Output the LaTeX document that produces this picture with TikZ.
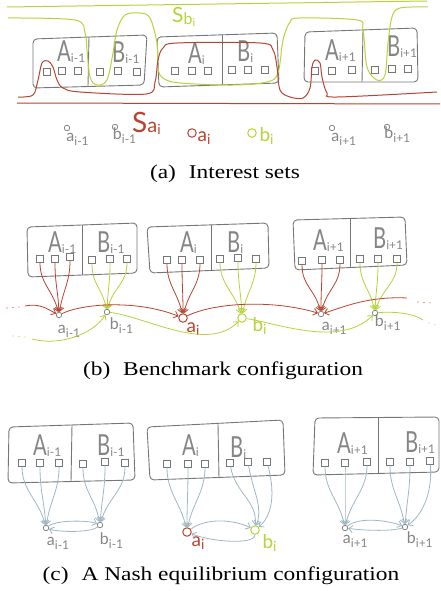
\documentclass[tikz,border=0pt]{standalone}
\usepackage{fontspec}
\setmainfont{Liberation Serif}
\newfontfamily\handfont{Lato}
\usepackage{graphicx}
\usetikzlibrary{arrows.meta,positioning}
\definecolor{boxgray}{HTML}{767676}
\definecolor{inkgray}{HTML}{858585}
\definecolor{sred}{HTML}{B8432F}
\definecolor{sgreen}{HTML}{B5D33A}
\definecolor{sblue}{HTML}{9FB7C3}
\newcommand{\hw}[5][-3pt]{{\fontsize{#4}{#4}\selectfont #2}\raisebox{#1}{\fontsize{#5}{#5}\selectfont #3}}
\newcommand{\hwbox}[2]{\scalebox{0.7}[1]{\fontsize{29}{29}\selectfont #1}\raisebox{-1pt}{\fontsize{12}{12}\selectfont #2}}
\newcommand{\capt}[2]{\scalebox{1.2}[1]{\fontsize{19.5}{19.5}\selectfont (#1)\hspace{0.55em}#2}}
\tikzset{
  box/.style={draw=boxgray, line width=.9pt, rounded corners=4pt},
  sq/.style={draw=boxgray, line width=.9pt, minimum width=7pt, minimum height=6.5pt, inner sep=0pt},
  pt/.style={draw=inkgray, circle, line width=.8pt, minimum size=5.5pt, inner sep=0pt},
  bigpt/.style={circle, line width=1pt, minimum size=8.5pt, inner sep=0pt},
  hand/.style={font=\handfont, text=inkgray, inner sep=0pt},
  handtip/.style={-{Straight Barb[length=4pt,width=7pt]}},
  redarr/.style={handtip, draw=sred, line width=.8pt},
  grnarr/.style={handtip, draw=sgreen, line width=.8pt},
  bluarr/.style={handtip, draw=sblue, line width=.8pt},
  curve/.style={line width=1pt},
  dots/.style={line width=1.2pt, line cap=round, dash pattern=on 0pt off 6pt},
  captext/.style={inner sep=0pt, anchor=base}
}
\begin{document}
\begin{tikzpicture}[x=1pt, y=-1pt]
  \useasboundingbox (0,0) rectangle (441,591);

  % (a) interest sets
  \draw[box] (33,39) -- (147,35) -- (144,85) -- (33,88) -- cycle;
  \draw[box] (89,37) -- (88,86);
  \draw[box] (157,37) -- (277,33) -- (279,83) -- (159,87) -- cycle;
  \draw[box] (222,35) -- (222,85);
  \draw[box] (305,32) -- (417,28) -- (418,82) -- (304,82) -- cycle;
  \draw[box] (363,30) -- (362,82);
  \node[hand, anchor=base west] (a-tAp) at (57,62) {\hwbox{A}{i-1}};
  \node[hand, anchor=base west] (a-tBp) at (112,63) {\hwbox{B}{i-1}};
  \node[hand, anchor=base west] (a-tAc) at (188,64) {\hwbox{A}{i}};
  \node[hand, anchor=base west] (a-tBc) at (237,62) {\hwbox{B}{i}};
  \node[hand, anchor=base west] (a-tAn) at (325,61) {\hwbox{A}{i+1}};
  \node[hand, anchor=base west] (a-tBn) at (387,57) {\hwbox{B}{i+1}};
  \node[sq] (a-Ap1) at (47,72) {}; \node[sq] (a-Ap2) at (62,71) {}; \node[sq] (a-Ap3) at (78,71) {};
  \node[sq] (a-Bp1) at (100,72) {}; \node[sq] (a-Bp2) at (118,71) {}; \node[sq] (a-Bp3) at (137,72) {};
  \node[sq] (a-Ac1) at (175,71) {}; \node[sq] (a-Ac2) at (192,71) {}; \node[sq] (a-Ac3) at (208,71) {};
  \node[sq] (a-Bc1) at (232,70) {}; \node[sq] (a-Bc2) at (248,70) {}; \node[sq] (a-Bc3) at (265,70) {};
  \node[sq] (a-An1) at (315,71) {}; \node[sq] (a-An2) at (332,71) {}; \node[sq] (a-An3) at (352,70) {};
  \node[sq] (a-Bn1) at (375,70) {}; \node[sq] (a-Bn2) at (392,69) {}; \node[sq] (a-Bn3) at (408,69) {};

  \draw[sgreen, curve] (7,7) -- (427,1);
  \draw[sgreen, curve] plot[smooth, tension=.55] coordinates {(8,18) (75,20) (85,33) (87,50) (90,77)
    (97,85) (107,80) (113,53) (117,30) (125,15) (140,13) (150,18) (157,43) (158,68) (163,78) (180,83)
    (233,85) (267,82) (278,73) (283,40) (290,22) (300,18) (357,20) (363,30) (367,67) (377,80)
    (385,75) (388,43) (392,17) (400,8) (428,7)};
  \draw[sred, curve] plot[smooth, tension=.55] coordinates {(18,97) (33,95) (38,80) (42,63) (48,61)
    (53,67) (57,80) (63,88) (80,92) (146,94) (155,82) (158,60) (163,48) (177,43) (260,43) (273,50)
    (277,67) (280,90) (290,97) (303,98) (310,88) (312,67) (315,60) (320,63) (322,77) (327,93)
    (337,97) (437,92)};
  \draw[sred, curve] (17,103) -- (440,104);
  \node[hand, text=sgreen, anchor=base west] (a-sb) at (172,23)
    {\hw[-2pt]{S}{b\raisebox{-2pt}{\fontsize{11}{11}\selectfont i}}{21}{16}};
  \node[hand, text=sred, anchor=base west] (a-sa) at (132,132)
    {\hw[0pt]{S}{a\raisebox{-2pt}{\fontsize{14}{14}\selectfont i}}{28}{20}};

  \node[pt] (a-ap) at (67,128) {};
  \node[pt] (a-bp) at (115,127) {};
  \node[bigpt, draw=sred] (a-ac) at (192,133) {};
  \node[bigpt, draw=sgreen] (a-bc) at (252,133) {};
  \node[pt] (a-an) at (332,128) {};
  \node[pt] (a-bn) at (387,127) {};
  \node[hand, below right=2.5pt and -3pt of a-ap] (a-lap) {\hw[-4pt]{a}{i-1}{16}{12}};
  \node[hand, below right=-1.5pt and -4.5pt of a-bp] (a-lbp) {\hw[-4pt]{b}{i-1}{16}{12}};
  \node[hand, text=sred, below right=-5pt and 2pt of a-ac] (a-lac) {\hw[-3pt]{a}{i}{19}{14}};
  \node[hand, text=sgreen, below right=-9pt and 4pt of a-bc] (a-lbc) {\hw[-3pt]{b}{i}{19}{14}};
  \node[hand, below right=2.5pt and -3pt of a-an] (a-lan) {\hw[-4pt]{a}{i+1}{16}{12}};
  \node[hand, below right=-2.5pt and -5pt of a-bn] (a-lbn) {\hw[-4pt]{b}{i+1}{16}{12}};
  \node[captext] (a-cap) at (225,178) {\capt{a}{Interest sets}};

  % (b) benchmark configuration
  \draw[box] (27,227) -- (137,223) -- (137,273) -- (28,277) -- cycle;
  \draw[box] (82,225) -- (82,275);
  \draw[box] (147,227) -- (268,223) -- (269,268) -- (150,273) -- cycle;
  \draw[box] (211,225) -- (211,271);
  \draw[box] (293,220) -- (405,217) -- (407,265) -- (295,270) -- cycle;
  \draw[box] (350,218) -- (350,268);
  \node[hand, anchor=base west] (b-tAp) at (48,252) {\hwbox{A}{i-1}};
  \node[hand, anchor=base west] (b-tBp) at (97,252) {\hwbox{B}{i-1}};
  \node[hand, anchor=base west] (b-tAc) at (180,252) {\hwbox{A}{i}};
  \node[hand, anchor=base west] (b-tBc) at (227,252) {\hwbox{B}{i}};
  \node[hand, anchor=base west] (b-tAn) at (313,250) {\hwbox{A}{i+1}};
  \node[hand, anchor=base west] (b-tBn) at (373,248) {\hwbox{B}{i+1}};
  \node[sq] (b-Ap1) at (40,259) {}; \node[sq] (b-Ap2) at (55,259) {}; \node[sq] (b-Ap3) at (70,257) {};
  \node[sq] (b-Bp1) at (92,260) {}; \node[sq] (b-Bp2) at (110,259) {}; \node[sq] (b-Bp3) at (127,259) {};
  \node[sq] (b-Ac1) at (167,260) {}; \node[sq] (b-Ac2) at (182,260) {}; \node[sq] (b-Ac3) at (200,260) {};
  \node[sq] (b-Bc1) at (220,259) {}; \node[sq] (b-Bc2) at (238,258) {}; \node[sq] (b-Bc3) at (256,259) {};
  \node[sq] (b-An1) at (302,261) {}; \node[sq] (b-An2) at (322,260) {}; \node[sq] (b-An3) at (340,260) {};
  \node[sq] (b-Bn1) at (360,259) {}; \node[sq] (b-Bn2) at (378,259) {}; \node[sq] (b-Bn3) at (397,259) {};

  \node[pt] (b-ap) at (59,315) {};
  \node[pt] (b-bp) at (107,312) {};
  \node[bigpt, draw=sred] (b-ac) at (183,318) {};
  \node[bigpt, draw=sgreen] (b-bc) at (242,318) {};
  \node[pt] (b-an) at (321,314) {};
  \node[pt] (b-bn) at (375,313) {};
  \node[hand, below right=7.5pt and -3.5pt of b-ap] (b-lap) {\hw[-4pt]{a}{i-1}{16}{12}};
  \node[hand, below right=3.5pt and .5pt of b-bp] (b-lbp) {\hw[-4pt]{b}{i-1}{16}{12}};
  \node[hand, text=sred, below right=1pt and 0pt of b-ac] (b-lac) {\hw[-3pt]{a}{i}{19}{14}};
  \node[hand, text=sgreen, below right=-4pt and 7pt of b-bc] (b-lbc) {\hw[-3pt]{b}{i}{19}{14}};
  \node[hand, below right=5.5pt and -1.5pt of b-an] (b-lan) {\hw[-4pt]{a}{i+1}{16}{12}};
  \node[hand, below right=-.5pt and -2.5pt of b-bn] (b-lbn) {\hw[-4pt]{b}{i+1}{16}{12}};

  \draw[redarr] (b-Ap1) .. controls +(0,25) and +(-6,-25) .. (b-ap);
  \draw[redarr] (b-Ap2) .. controls +(0,25) and +(-1,-25) .. (b-ap);
  \draw[redarr] (b-Ap3) .. controls +(0,25) and +(4,-25) .. (b-ap);
  \draw[grnarr] (b-Bp1) .. controls +(0,25) and +(-5,-25) .. (b-bp);
  \draw[grnarr] (b-Bp2) .. controls +(0,25) and +(1,-25) .. (b-bp);
  \draw[grnarr] (b-Bp3) .. controls +(0,25) and +(6,-25) .. (b-bp);
  \draw[redarr] (b-Ac1) .. controls +(0,25) and +(-5,-25) .. (b-ac);
  \draw[redarr] (b-Ac2) .. controls +(0,25) and +(0,-25) .. (b-ac);
  \draw[redarr] (b-Ac3) .. controls +(0,25) and +(5,-25) .. (b-ac);
  \draw[grnarr] (b-Bc1) .. controls +(0,25) and +(-7,-25) .. (b-bc);
  \draw[grnarr] (b-Bc2) .. controls +(0,25) and +(-1,-25) .. (b-bc);
  \draw[grnarr] (b-Bc3) .. controls +(0,25) and +(4,-25) .. (b-bc);
  \draw[redarr] (b-An1) .. controls +(0,25) and +(-6,-25) .. (b-an);
  \draw[redarr] (b-An2) .. controls +(0,25) and +(0,-25) .. (b-an);
  \draw[redarr] (b-An3) .. controls +(0,25) and +(6,-25) .. (b-an);
  \draw[grnarr] (b-Bn1) .. controls +(0,25) and +(-5,-25) .. (b-bn);
  \draw[grnarr] (b-Bn2) .. controls +(0,25) and +(1,-25) .. (b-bn);
  \draw[grnarr] (b-Bn3) .. controls +(0,25) and +(7,-25) .. (b-bn);

  \coordinate (b-rl0) at (7,308); \coordinate (b-rl1) at (20,307); \coordinate (b-rl) at (25,306);
  \coordinate (b-rr0) at (432,303); \coordinate (b-rr1) at (418,302); \coordinate (b-rr) at (407,298);
  \coordinate (b-gl0) at (13,336); \coordinate (b-gl1) at (26,337); \coordinate (b-gl) at (32,339);
  \coordinate (b-gr0) at (429,323); \coordinate (b-gr1) at (436,325); \coordinate (b-gr) at (423,320);
  \draw[sred, dots] (b-rl0) -- (b-rl1);
  \draw[sred, dots] (b-rr1) -- (b-rr0);
  \draw[sgreen, dots] (b-gl0) -- (b-gl1);
  \draw[sgreen, dots] (b-gr0) -- (b-gr1);
  \draw[redarr] (b-rl) .. controls +(15,-3) and +(-12,-6) .. (b-ap);
  \draw[redarr] (b-ap) .. controls +(25,-12) and +(-45,-18) .. (b-ac);
  \draw[redarr] (b-ac) .. controls +(30,-15) and +(-50,-15) .. (b-an);
  \draw[redarr] (b-rr) .. controls +(-40,-2) and +(20,-6) .. (b-an);
  \draw[grnarr] (b-gl) .. controls +(30,8) and +(-12,20) .. (b-bp);
  \draw[grnarr] (b-bp) .. controls +(40,5) and +(-35,35) .. (b-bc);
  \draw[grnarr] (b-bc) .. controls +(35,5) and +(-35,35) .. (b-bn);
  \draw[sgreen, line width=.8pt] (b-bn) .. controls +(20,-2) and +(-8,-6) .. (b-gr);
  \node[captext] (b-cap) at (223,375) {\capt{b}{Benchmark configuration}};

  % (c) a Nash equilibrium configuration
  \draw[box] (9,427) -- (133,423) -- (135,480) -- (8,483) -- cycle;
  \draw[box] (72,425) -- (71,482);
  \draw[box] (147,427) -- (283,420) -- (285,475) -- (150,480) -- cycle;
  \draw[box] (218,424) -- (219,478);
  \draw[box] (315,418) -- (439,417) -- (439,472) -- (313,475) -- cycle;
  \draw[box] (378,417) -- (378,474);
  \node[hand, anchor=base west] (c-tAp) at (33,455) {\hwbox{A}{i-1}};
  \node[hand, anchor=base west] (c-tBp) at (97,455) {\hwbox{B}{i-1}};
  \node[hand, anchor=base west] (c-tAc) at (182,455) {\hwbox{A}{i}};
  \node[hand, anchor=base west] (c-tBc) at (230,457) {\hwbox{B}{i}};
  \node[hand, anchor=base west] (c-tAn) at (337,453) {\hwbox{A}{i+1}};
  \node[hand, anchor=base west] (c-tBn) at (405,452) {\hwbox{B}{i+1}};
  \node[sq] (c-Ap1) at (22,463) {}; \node[sq] (c-Ap2) at (40,463) {}; \node[sq] (c-Ap3) at (59,463) {};
  \node[sq] (c-Bp1) at (83,464) {}; \node[sq] (c-Bp2) at (105,462) {}; \node[sq] (c-Bp3) at (125,463) {};
  \node[sq] (c-Ac1) at (167,464) {}; \node[sq] (c-Ac2) at (188,464) {}; \node[sq] (c-Ac3) at (205,464) {};
  \node[sq] (c-Bc1) at (230,463) {}; \node[sq] (c-Bc2) at (248,462) {}; \node[sq] (c-Bc3) at (267,462) {};
  \node[sq] (c-An1) at (325,463) {}; \node[sq] (c-An2) at (345,463) {}; \node[sq] (c-An3) at (367,462) {};
  \node[sq] (c-Bn1) at (390,462) {}; \node[sq] (c-Bn2) at (410,462) {}; \node[sq] (c-Bn3) at (430,461) {};

  \node[pt] (c-ap) at (46,528) {};
  \node[pt] (c-bp) at (100,525) {};
  \node[bigpt, draw=sred] (c-ac) at (187,532) {};
  \node[bigpt, draw=sgreen] (c-bc) at (255,530) {};
  \node[pt] (c-an) at (345,528) {};
  \node[pt] (c-bn) at (405,527) {};
  \node[hand, below right=6.5pt and -1.5pt of c-ap] (c-lap) {\hw[-4pt]{a}{i-1}{16}{12}};
  \node[hand, below right=5.5pt and -2.5pt of c-bp] (c-lbp) {\hw[-4pt]{b}{i-1}{16}{12}};
  \node[hand, text=sred, below right=1pt and 1pt of c-ac] (c-lac) {\hw[-3pt]{a}{i}{19}{14}};
  \node[hand, text=sgreen, below right=1pt and 4pt of c-bc] (c-lbc) {\hw[-3pt]{b}{i}{19}{14}};
  \node[hand, below right=4.5pt and -4.5pt of c-an] (c-lan) {\hw[-4pt]{a}{i+1}{16}{12}};
  \node[hand, below right=2.5pt and -.5pt of c-bn] (c-lbn) {\hw[-4pt]{b}{i+1}{16}{12}};

  \draw[bluarr] (c-Ap1) .. controls +(0,28) and +(-7,-28) .. (c-ap);
  \draw[bluarr] (c-Ap2) .. controls +(0,28) and +(-2,-28) .. (c-ap);
  \draw[bluarr] (c-Ap3) .. controls +(0,28) and +(4,-28) .. (c-ap);
  \draw[bluarr] (c-Bp1) .. controls +(0,28) and +(-5,-28) .. (c-bp);
  \draw[bluarr] (c-Bp2) .. controls +(0,28) and +(2,-28) .. (c-bp);
  \draw[bluarr] (c-Bp3) .. controls +(0,28) and +(8,-28) .. (c-bp);
  \draw[bluarr] (c-Ac1) .. controls +(0,28) and +(-6,-28) .. (c-ac);
  \draw[bluarr] (c-Ac2) .. controls +(0,28) and +(0,-28) .. (c-ac);
  \draw[bluarr] (c-Ac3) .. controls +(0,28) and +(5,-28) .. (c-ac);
  \draw[bluarr] (c-Bc1) .. controls +(5,30) and +(2,-30) .. (c-bc);
  \draw[bluarr] (c-Bc2) .. controls +(5,30) and +(8,-25) .. (c-bc);
  \draw[bluarr] (c-Bc3) .. controls +(8,30) and +(18,-15) .. (c-bc);
  \draw[bluarr] (c-An1) .. controls +(0,28) and +(-6,-28) .. (c-an);
  \draw[bluarr] (c-An2) .. controls +(0,28) and +(0,-28) .. (c-an);
  \draw[bluarr] (c-An3) .. controls +(0,28) and +(6,-28) .. (c-an);
  \draw[bluarr] (c-Bn1) .. controls +(0,28) and +(-5,-28) .. (c-bn);
  \draw[bluarr] (c-Bn2) .. controls +(0,28) and +(2,-28) .. (c-bn);
  \draw[bluarr] (c-Bn3) .. controls +(3,35) and +(15,-10) .. (c-bn);
  \draw[bluarr] (c-ap) .. controls +(10,-8) and +(-12,-5) .. (c-bp);
  \draw[bluarr] (c-bp) .. controls +(-10,8) and +(12,4) .. (c-ap);
  \draw[bluarr] (c-ac) .. controls +(20,-15) and +(-20,-10) .. (c-bc);
  \draw[bluarr] (c-bc) .. controls +(0,15) and +(25,10) .. (c-ac);
  \draw[bluarr] (c-an) .. controls +(15,-12) and +(-15,-6) .. (c-bn);
  \draw[bluarr] (c-bn) .. controls +(-15,5) and +(15,2) .. (c-an);
  \node[captext] (c-cap) at (221,580) {\capt{c}{A Nash equilibrium configuration}};
\end{tikzpicture}
\end{document}
